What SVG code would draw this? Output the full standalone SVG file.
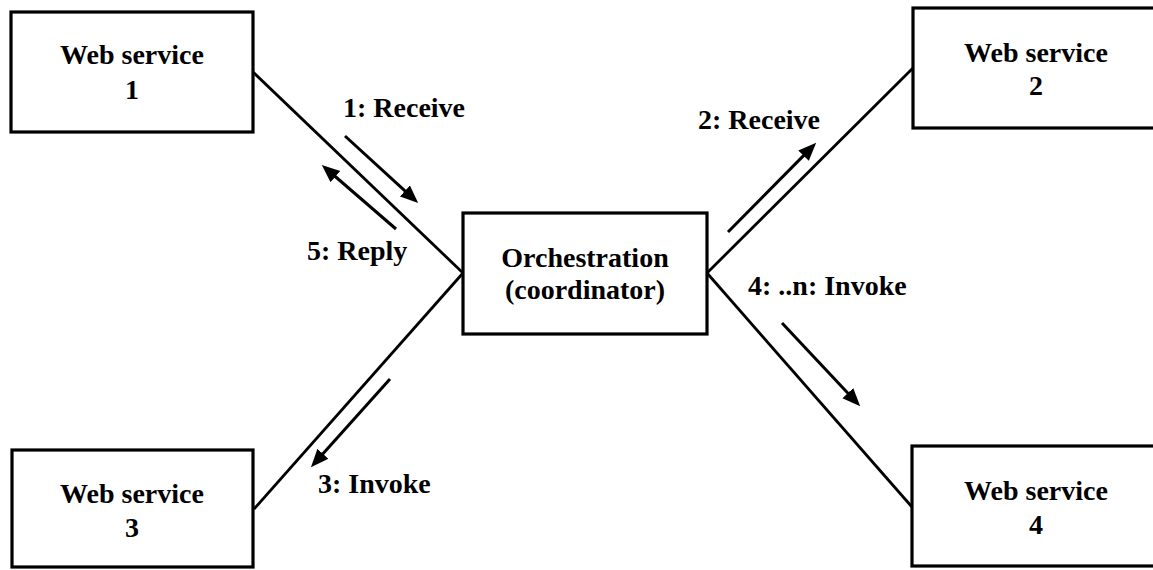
<svg xmlns="http://www.w3.org/2000/svg" width="1153" height="570" viewBox="0 0 1153 570">
<style>
.box{fill:#fff;stroke:#000;stroke-width:3.2}
.t{font-family:"Liberation Serif","Times New Roman",serif;font-weight:bold;font-size:28px;fill:#000}
.c{text-anchor:middle}
.ln{stroke:#000;stroke-width:2.8;fill:none}
.ar{stroke:#000;stroke-width:3;fill:none;marker-end:url(#ah)}
</style>
<defs>
<marker id="ah" markerUnits="userSpaceOnUse" markerWidth="18" markerHeight="16" refX="6" refY="7" orient="auto" viewBox="0 0 17 14">
<path d="M0,0 L17,7 L0,14 z" fill="#000"/>
</marker>
</defs>
<rect width="1153" height="570" fill="#fff"/>
<g id="connectors">
<line class="ln" x1="253" y1="72" x2="463" y2="273"/>
<line class="ln" x1="707" y1="273" x2="913" y2="68"/>
<line class="ln" x1="463" y1="273" x2="254" y2="509"/>
<line class="ln" x1="707" y1="273" x2="912" y2="507"/>
<line class="ar" x1="345" y1="136" x2="409.6" y2="195.2"/>
<line class="ar" x1="396" y1="229" x2="330.6" y2="172.5"/>
<line class="ar" x1="728" y1="232" x2="808" y2="151.1"/>
<line class="ar" x1="390" y1="379" x2="318.7" y2="458.5"/>
<line class="ar" x1="782" y1="323" x2="852.2" y2="397.7"/>
<text class="t" x="343" y="117">1: Receive</text>
<text class="t" x="307" y="260">5: Reply</text>
<text class="t" x="698" y="129">2: Receive</text>
<text class="t" x="748" y="295">4: ..n: Invoke</text>
<text class="t" x="318" y="493">3: Invoke</text>
</g>
<g id="ws1">
<rect class="box" x="11" y="12" width="242" height="120"/>
<text class="t c" x="132" y="64">Web service</text>
<text class="t c" x="132" y="99">1</text>
</g>
<g id="ws2">
<rect class="box" x="913" y="8" width="260" height="120"/>
<text class="t c" x="1036" y="62">Web service</text>
<text class="t c" x="1036" y="95">2</text>
</g>
<g id="ws3">
<rect class="box" x="12" y="450" width="241" height="117"/>
<text class="t c" x="132" y="503">Web service</text>
<text class="t c" x="132" y="537">3</text>
</g>
<g id="ws4">
<rect class="box" x="912" y="446" width="260" height="120"/>
<text class="t c" x="1036" y="500">Web service</text>
<text class="t c" x="1036" y="534">4</text>
</g>
<g id="orchestration">
<rect class="box" x="463" y="213" width="244" height="121"/>
<text class="t c" x="585" y="267">Orchestration</text>
<text class="t c" x="585" y="299">(coordinator)</text>
</g>
</svg>
